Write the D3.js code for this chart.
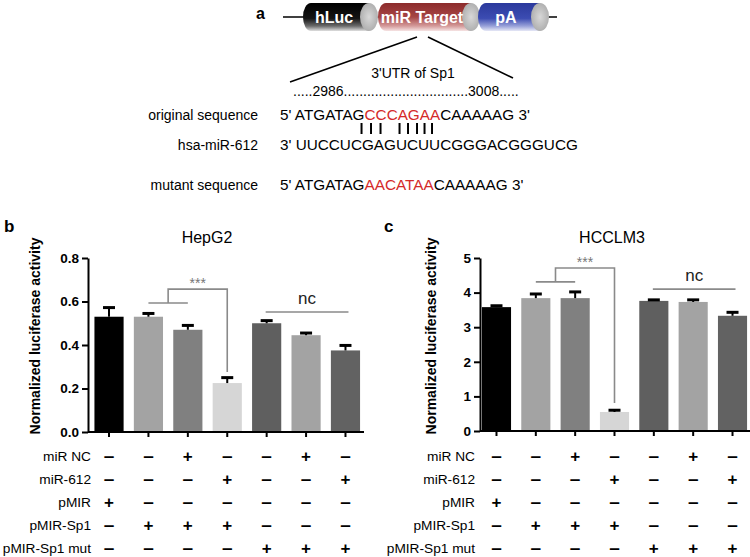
<!DOCTYPE html>
<html>
<head>
<meta charset="utf-8">
<script src="https://cdn.jsdelivr.net/npm/d3@7"></script>
<style>
body { margin: 0; background: #fff; }
svg { font-family: Arial, "Liberation Sans", sans-serif; }
</style>
</head>
<body>
<div id="fig"></div>
<script>
//
// data
//
var conditionNames = ["miR NC", "miR-612", "pMIR", "pMIR-Sp1", "pMIR-Sp1 mut"];
var conditionSigns = [
	["-", "-", "+", "-", "-", "+", "-"],
	["-", "-", "-", "+", "-", "-", "+"],
	["+", "-", "-", "-", "-", "-", "-"],
	["-", "+", "+", "+", "-", "-", "-"],
	["-", "-", "-", "-", "+", "+", "+"]
];
var groups = [0, 1, 2, 3, 4, 5, 6];

var hepg2Mean = [0.53, 0.53, 0.47, 0.225, 0.50, 0.445, 0.375];
var hepg2Err  = [0.042, 0.015, 0.02, 0.025, 0.012, 0.01, 0.023];
var hepg2Ticks = [0, 0.2, 0.4, 0.6, 0.8];

var hcclm3Mean = [3.58, 3.84, 3.84, 0.55, 3.76, 3.73, 3.33];
var hcclm3Err  = [0.04, 0.12, 0.18, 0.05, 0.03, 0.06, 0.1];
var hcclm3Ticks = [0, 1, 2, 3, 4, 5];

var barColors = ["#000000", "#a3a3a3", "#808080", "#d6d6d6", "#5f5f5f", "#a3a3a3", "#626262"];

var svg = d3.select("#fig").append("svg")
	.attr("width", 750)
	.attr("height", 557);

//
// panel a : construct and sequences
//
var defs = svg.append("defs");
function vgrad(id, stops) {
	var g = defs.append("linearGradient").attr("id", id)
		.attr("x1", 0).attr("y1", 0).attr("x2", 0).attr("y2", 1);
	stops.forEach(function(s) {
		g.append("stop").attr("offset", s[0]).attr("stop-color", s[1]);
	});
}
vgrad("gLuc", [["0%", "#000"], ["55%", "#141414"], ["82%", "#6a6a6a"], ["100%", "#e0e0e0"]]);
vgrad("gMir", [["0%", "#8c2b2b"], ["50%", "#a64545"], ["82%", "#d49a9a"], ["100%", "#f6e4e4"]]);
vgrad("gPa", [["0%", "#2b399c"], ["55%", "#3c4cb2"], ["82%", "#97a0d8"], ["100%", "#e6e8f6"]]);
var rg = defs.append("radialGradient").attr("id", "gCap");
rg.append("stop").attr("offset", "0%").attr("stop-color", "#d8d8d8");
rg.append("stop").attr("offset", "100%").attr("stop-color", "#b0b0b0");

var scheme = svg.append("g");
scheme.append("line").attr("x1", 283).attr("x2", 557).attr("y1", 17).attr("y2", 17)
	.style("stroke", "#000").style("stroke-width", 1.6);

function cylinder(x0, x1, fill, label, tx) {
	var yt = 3, yb = 31, rx = 8, ry = 14;
	scheme.append("path")
		.attr("d", "M" + (x0 + rx) + "," + yt + "L" + x1 + "," + yt + "L" + x1 + "," + yb +
			"L" + (x0 + rx) + "," + yb + "A" + rx + "," + ry + " 0 0 1 " + (x0 + rx) + "," + yt + "Z")
		.style("fill", "url(#" + fill + ")");
	scheme.append("ellipse").attr("cx", x1).attr("cy", 17).attr("rx", 9).attr("ry", ry)
		.style("fill", "url(#gCap)");
	scheme.append("text").attr("x", tx).attr("y", 23)
		.attr("text-anchor", "middle")
		.style("fill", "#fff").style("font-weight", "bold").style("font-size", "16px")
		.text(label);
}
cylinder(303, 369, "gLuc", "hLuc", 334);
cylinder(378, 471, "gMir", "miR Target", 422);
cylinder(478, 540, "gPa", "pA", 506);

svg.append("text").attr("x", 256).attr("y", 19)
	.style("font-weight", "bold").style("font-size", "16px").text("a");

scheme.append("line").attr("x1", 417).attr("y1", 37).attr("x2", 290).attr("y2", 82)
	.style("stroke", "#000").style("stroke-width", 1.6);
scheme.append("line").attr("x1", 428).attr("y1", 37).attr("x2", 513).attr("y2", 78)
	.style("stroke", "#000").style("stroke-width", 1.6);

scheme.append("text").attr("x", 413).attr("y", 78).attr("text-anchor", "middle")
	.style("font-size", "14px").text("3'UTR of Sp1");
scheme.append("text").attr("x", 293).attr("y", 96)
	.style("font-size", "14px")
	.text(".....2986" + ".".repeat(32) + "3008.....");

var seqLabels = ["original sequence", "hsa-miR-612", "mutant sequence"];
var seqY = [120, 150, 190];
seqLabels.forEach(function(l, i) {
	scheme.append("text").attr("x", 258).attr("y", seqY[i])
		.attr("text-anchor", "end").style("font-size", "14px").text(l);
});

function seqRow(y, parts) {
	var t = scheme.append("text").attr("x", 280).attr("y", y).style("font-size", "15.3px");
	parts.forEach(function(p) {
		t.append("tspan").style("fill", p[1] ? "#d42a2a" : "#000").text(p[0]);
	});
	return t;
}
var orig = seqRow(seqY[0], [["5' ATGATAG", 0], ["CCCAGAA", 1], ["CAAAAAG 3'", 0]]);
seqRow(seqY[1], [["3'  UUCCUCGAGUCUUCGGGACGGGUCG", 0]]);
seqRow(seqY[2], [["5' ATGATAG", 0], ["AACATAA", 1], ["CAAAAAG 3'", 0]]);

var redStart = orig.node().getStartPositionOfChar(10).x;
var pairOffsets = [-3, 6.5, 16, 35, 43.5, 52.5, 60, 67.5];
pairOffsets.forEach(function(o) {
	scheme.append("line").attr("x1", redStart + o).attr("x2", redStart + o)
		.attr("y1", 123).attr("y2", 134)
		.style("stroke", "#000").style("stroke-width", 2);
});

//
// panels b and c : bar charts
//
function drawPanel(p) {
	var g = svg.append("g");

	var x = d3.scaleBand().domain(groups)
		.range(p.xRange).paddingInner(0.26).paddingOuter(0.1);
	var y = d3.scaleLinear().domain([0, p.ticks[p.ticks.length - 1]]).range(p.yRange);
	var cx = function(i) { return x(i) + x.bandwidth() / 2; };

	// bars
	g.selectAll(".bar").data(p.mean).enter().append("rect")
		.attr("x", function(d, i) { return x(i); })
		.attr("y", function(d) { return y(d); })
		.attr("width", x.bandwidth())
		.attr("height", function(d) { return y(0) - y(d); })
		.style("fill", function(d, i) { return barColors[i]; });

	// error bars (upper only)
	var eb = g.selectAll(".err").data(p.mean).enter().append("g");
	eb.append("line")
		.attr("x1", function(d, i) { return cx(i); })
		.attr("x2", function(d, i) { return cx(i); })
		.attr("y1", function(d) { return y(d); })
		.attr("y2", function(d, i) { return y(d + p.err[i]); })
		.style("stroke", "#000").style("stroke-width", 2);
	eb.append("line")
		.attr("x1", function(d, i) { return cx(i) - 6; })
		.attr("x2", function(d, i) { return cx(i) + 6; })
		.attr("y1", function(d, i) { return y(d + p.err[i]); })
		.attr("y2", function(d, i) { return y(d + p.err[i]); })
		.style("stroke", "#000").style("stroke-width", 3);

	// axes
	var yAxis = g.append("g")
		.attr("transform", "translate(" + p.axisX + ",0)")
		.call(d3.axisLeft(y).tickValues(p.ticks).tickFormat(d3.format(p.fmt))
			.tickSize(6).tickSizeOuter(0).tickPadding(3));
	yAxis.selectAll("path, line").style("stroke", "#000").style("stroke-width", 2);
	yAxis.selectAll("text").style("font-size", "13.5px").style("font-weight", "bold")
		.style("font-family", "Arial, 'Liberation Sans', sans-serif").style("fill", "#000");

	var xAxis = g.append("g")
		.attr("transform", "translate(0," + y(0) + ")")
		.call(d3.axisBottom(x).tickFormat("").tickSize(5).tickSizeOuter(0));
	xAxis.select("path").attr("d", "M" + p.axisX + ",0H" + p.xRange[1]);
	xAxis.selectAll("path, line").style("stroke", "#000").style("stroke-width", 2);

	g.append("text")
		.attr("transform", "translate(" + p.ylabX + ",336) rotate(-90)")
		.attr("text-anchor", "middle")
		.style("font-size", "14px").style("font-weight", "bold")
		.text("Normalized luciferase activity");

	// title and panel letter
	g.append("text").attr("x", p.titleX).attr("y", 243).attr("text-anchor", "middle")
		.style("font-size", "16px").text(p.title);
	g.append("text").attr("x", p.letterX).attr("y", 232)
		.style("font-size", "17px").style("font-weight", "bold").text(p.letter);

	// significance bracket
	var b = p.bracket, grey = "#8a8a8a";
	var mid = (cx(b.pair[0]) + cx(b.pair[1])) / 2;
	g.append("line").attr("x1", cx(b.pair[0])).attr("x2", cx(b.pair[1]))
		.attr("y1", y(b.pairLevel)).attr("y2", y(b.pairLevel))
		.style("stroke", grey).style("stroke-width", 1.6);
	g.append("path")
		.attr("d", "M" + mid + "," + y(b.pairLevel) + "V" + y(b.topLevel) +
			"H" + cx(b.target) + "V" + y(b.targetLevel))
		.style("fill", "none").style("stroke", grey).style("stroke-width", 1.6);
	g.append("text").attr("x", (mid + cx(b.target)) / 2).attr("y", y(b.topLevel) - 1)
		.attr("text-anchor", "middle").style("font-size", "14px").style("fill", "#777")
		.text("***");

	// nc line
	g.append("line").attr("x1", cx(p.nc.from) - 1).attr("x2", cx(p.nc.to) + 3)
		.attr("y1", y(p.nc.level)).attr("y2", y(p.nc.level))
		.style("stroke", grey).style("stroke-width", 1.6);
	g.append("text").attr("x", (cx(p.nc.from) + cx(p.nc.to)) / 2 + 1).attr("y", y(p.nc.level) - 8)
		.attr("text-anchor", "middle").style("font-size", "17px").style("fill", "#222")
		.text("nc");

	// condition table
	conditionNames.forEach(function(name, r) {
		var ry = 461 + r * 23;
		g.append("text").attr("x", p.rowLabelX).attr("y", ry)
			.attr("text-anchor", "end").style("font-size", "13.7px").text(name);
		g.selectAll(".sign" + r).data(conditionSigns[r]).enter().append("text")
			.attr("x", function(d, i) { return cx(i); })
			.attr("y", ry + 1)
			.attr("text-anchor", "middle")
			.style("font-size", function(d) { return d === "+" ? "17px" : "19px"; })
			.style("font-weight", "bold")
			.text(function(d) { return d === "+" ? "+" : "\u2013"; });
	});
}

drawPanel({
	mean: hepg2Mean, err: hepg2Err, ticks: hepg2Ticks, fmt: ".1f",
	xRange: [90.5, 364], yRange: [432, 258], axisX: 88,
	ylabX: 40, titleX: 207, title: "HepG2", letterX: 4, letter: "b",
	rowLabelX: 91,
	bracket: { pair: [1, 2], pairLevel: 0.593, topLevel: 0.657, target: 3, targetLevel: 0.276 },
	nc: { from: 4, to: 6, level: 0.552 }
});

drawPanel({
	mean: hcclm3Mean, err: hcclm3Err, ticks: hcclm3Ticks, fmt: "d",
	xRange: [478, 751], yRange: [431, 258], axisX: 480,
	ylabX: 436, titleX: 612, title: "HCCLM3", letterX: 384, letter: "c",
	rowLabelX: 475,
	bracket: { pair: [1, 2], pairLevel: 4.31, topLevel: 4.71, target: 3, targetLevel: 0.81 },
	nc: { from: 4, to: 6, level: 4.1 }
});
</script>
</body>
</html>
